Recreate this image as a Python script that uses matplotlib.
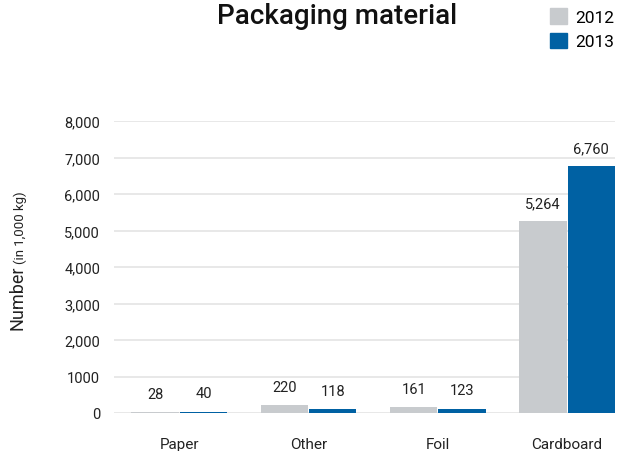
import matplotlib.pyplot as plt
import numpy as np
from matplotlib.patches import Patch

plt.rcParams['font.family'] = ['Roboto', 'DejaVu Sans']

categories = ['Paper', 'Other', 'Foil', 'Cardboard']
vals_2012 = [28, 220, 161, 5264]
vals_2013 = [40, 118, 123, 6760]
yticks = [0, 1000, 2000, 3000, 4000, 5000, 6000, 7000, 8000]
ytick_labels = ['0', '1000', '2,000', '3,000', '4,000', '5,000', '6,000', '7,000', '8,000']

c12 = '#c8cbce'
c13 = '#0061a3'

fig = plt.figure(figsize=(6.23, 4.52), dpi=100)
ax = fig.add_axes([114/623, 1 - 414/452, (615 - 114)/623, (414 - 122)/452])

x = np.arange(len(categories))
w = 0.366
b1 = ax.bar(x - w/2 - 0.004, vals_2012, w, color=c12, zorder=2)
b2 = ax.bar(x + w/2 + 0.004, vals_2013, w, color=c13, zorder=2)

for bars, vals in [(b1, vals_2012), (b2, vals_2013)]:
    for r, v in zip(bars, vals):
        ax.annotate(f'{v:,}', (r.get_x() + r.get_width()/2, v),
                    xytext=(0, 13), textcoords='offset points',
                    ha='center', va='center', fontsize=10.5, color='#222222')

ax.set_xlim(-0.505, 3.37)
ax.set_ylim(0, 8000)
ax.set_yticks(yticks)
ax.set_yticklabels(ytick_labels)
ax.set_xticks(x)
ax.set_xticklabels(categories)
ax.grid(axis='y', color='#e4e4e4', lw=1.2, zorder=0)
for s in ax.spines.values():
    s.set_visible(False)
ax.tick_params(axis='y', length=0, pad=10, labelsize=10.5, labelcolor='#222222')
ax.tick_params(axis='x', length=0, pad=17, labelsize=11, labelcolor='#222222')

fig.text(18/623, 1 - 330/452, 'Number', rotation=90, ha='center', va='bottom',
         fontsize=13, color='#222222')
fig.text(20/623, 1 - 264/452, '(in 1,000 kg)', rotation=90, ha='center', va='bottom',
         fontsize=9.5, color='#222222')

fig.text(337/623, 1 - 17/452, 'Packaging material', ha='center', va='center',
         fontsize=20, fontweight='medium', color='#111111')

handles = [Patch(color=c12, label='2012'), Patch(color=c13, label='2013')]
fig.legend(handles=handles, loc='upper left', bbox_to_anchor=(550/623, 1 - 9/452),
           frameon=False, fontsize=12.5, handlelength=1.0, handleheight=1.0,
           handletextpad=0.45, labelspacing=0.45, borderpad=0, borderaxespad=0)

fig.savefig('out.png', dpi=100)
